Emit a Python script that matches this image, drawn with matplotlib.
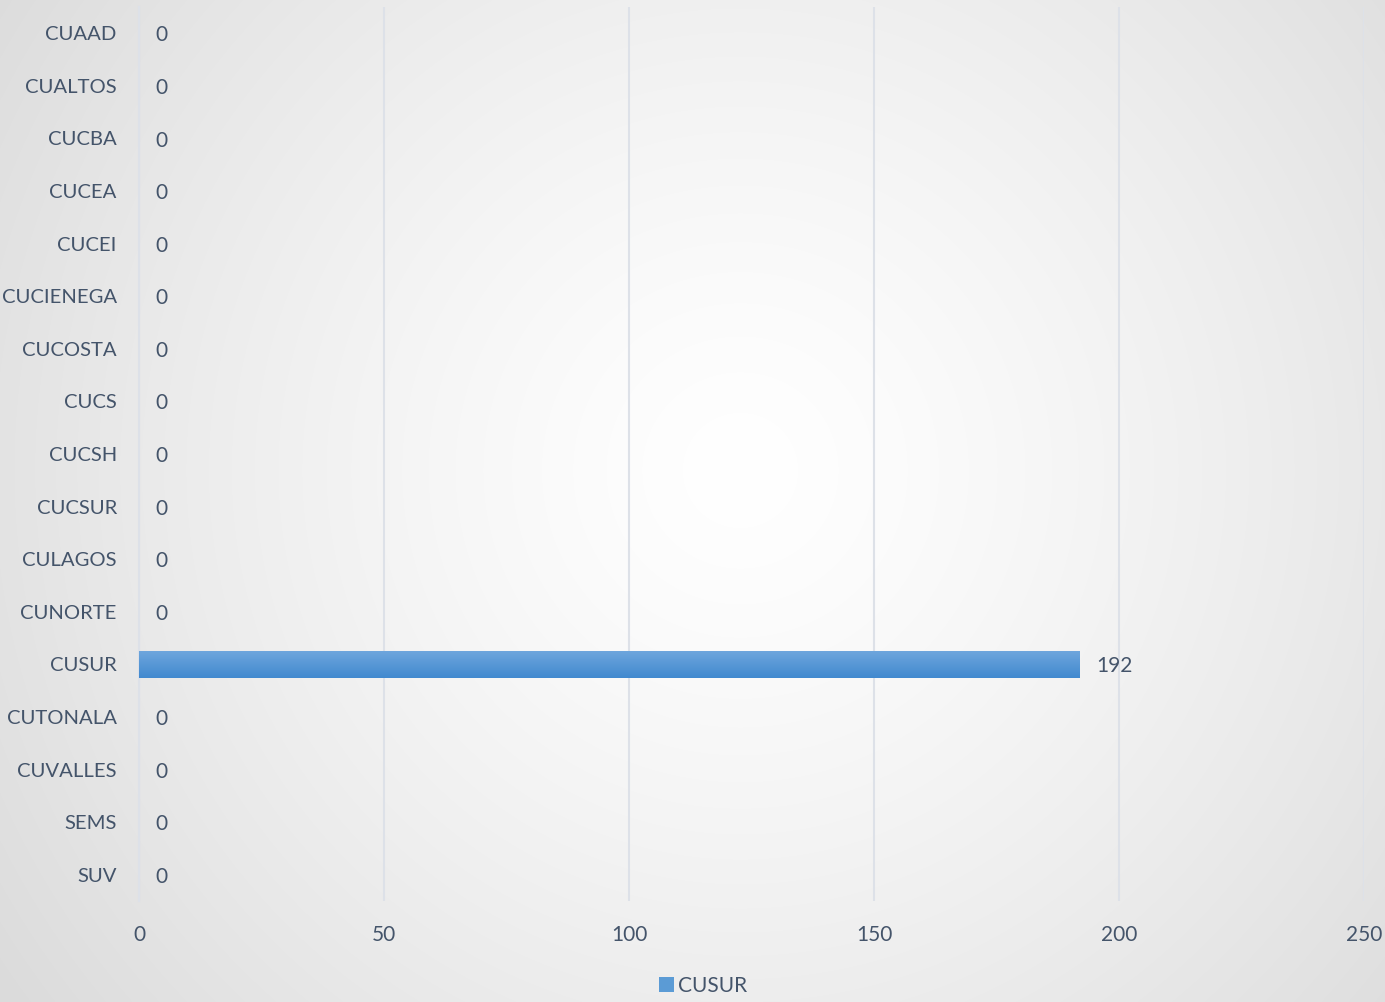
import matplotlib.pyplot as plt
import numpy as np
from matplotlib.colors import LinearSegmentedColormap
from matplotlib.patches import Patch

CATEGORIES = [
    "CUAAD", "CUALTOS", "CUCBA", "CUCEA", "CUCEI", "CUCIENEGA", "CUCOSTA",
    "CUCS", "CUCSH", "CUCSUR", "CULAGOS", "CUNORTE", "CUSUR", "CUTONALA",
    "CUVALLES", "SEMS", "SUV",
]
VALUES = [0, 0, 0, 0, 0, 0, 0, 0, 0, 0, 0, 0, 192, 0, 0, 0, 0]
SERIES_NAME = "CUSUR"
X_TICKS = [0, 50, 100, 150, 200, 250]

TEXT_COLOR = "#44546a"
GRID_COLOR = "#dde1e8"
BAR_TOP = "#6ea6dd"
BAR_BOTTOM = "#4189cf"

plt.rcParams["font.family"] = ["Lato", "DejaVu Sans"]

fig = plt.figure(figsize=(13.85, 10.02), dpi=100)

# radial background gradient
bg = fig.add_axes([0, 0, 1, 1], zorder=-10)
yy, xx = np.mgrid[0:1002, 0:1385]
r = np.hypot((xx - 740) / 900.0, (yy - 470) / 900.0)
shade = 1.0 - 0.14 * np.clip(r, 0, 1) ** 1.3
bg.imshow(np.dstack([shade, shade, shade]), aspect="auto", extent=[0, 1, 0, 1])
bg.axis("off")

ax = fig.add_axes([139 / 1385, 1 - 901 / 1002, 1225 / 1385, 894 / 1002])
ax.patch.set_alpha(0)

y = np.arange(len(CATEGORIES))
bars = ax.barh(y, VALUES, height=0.51, color=BAR_BOTTOM, zorder=3)

cmap = LinearSegmentedColormap.from_list("bar", [BAR_TOP, BAR_BOTTOM])
grad = np.linspace(0, 1, 64).reshape(-1, 1)
for b in bars:
    if b.get_width() <= 0:
        continue
    x0, y0 = b.get_x(), b.get_y()
    im = ax.imshow(grad, cmap=cmap, aspect="auto", zorder=4,
                   extent=[x0, x0 + b.get_width(), y0 + b.get_height(), y0],
                   interpolation="bicubic")
    im.set_clip_path(b)

for yi, v in zip(y, VALUES):
    ax.annotate(f"{v}", xy=(v, yi), xytext=(12 if v else 11.5, -1.5),
                textcoords="offset points", ha="left", va="center",
                fontsize=15, color=TEXT_COLOR)

ax.set_xlim(0, 250)
ax.set_ylim(len(CATEGORIES) - 0.5, -0.5)
ax.set_xticks(X_TICKS)
ax.set_yticks(y)
ax.set_yticklabels(CATEGORIES)
ax.xaxis.grid(True, color=GRID_COLOR, linewidth=1.5, zorder=0)
ax.set_axisbelow(True)
for side in ["top", "right", "bottom"]:
    ax.spines[side].set_visible(False)
ax.spines["left"].set_color(GRID_COLOR)
ax.spines["left"].set_linewidth(1.5)
ax.tick_params(axis="both", length=0, labelsize=15, labelcolor=TEXT_COLOR)
ax.tick_params(axis="x", pad=17)
ax.tick_params(axis="y", pad=16, labelsize=14.6)

handles = [Patch(facecolor="#5b9bd5", label=SERIES_NAME)]
fig.legend(handles=handles, loc="center", bbox_to_anchor=(703 / 1385, 1 - 986 / 1002),
           frameon=False, fontsize=15, handlelength=0.7, handleheight=0.7,
           handletextpad=0.2, labelcolor=TEXT_COLOR)

fig.savefig("out.png", dpi=100)
